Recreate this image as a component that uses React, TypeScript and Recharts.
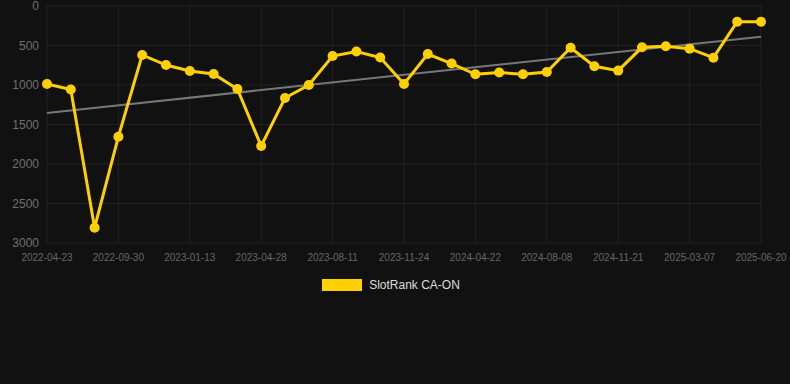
import { LineChart, Line, XAxis, YAxis, CartesianGrid, Legend, ReferenceLine } from 'recharts';

const dates = [
    '2022-04-23', '2022-06-16', '2022-08-08',
    '2022-09-30', '2022-11-04', '2022-12-09',
    '2023-01-13', '2023-02-17', '2023-03-24',
    '2023-04-28', '2023-06-02', '2023-07-07',
    '2023-08-11', '2023-09-15', '2023-10-20',
    '2023-11-24', '2024-01-14', '2024-03-04',
    '2024-04-22', '2024-05-28', '2024-07-03',
    '2024-08-08', '2024-09-12', '2024-10-17',
    '2024-11-21', '2024-12-26', '2025-01-30',
    '2025-03-07', '2025-04-11', '2025-05-16',
    '2025-06-20',
];

const ranks = [
    987, 1057, 2806, 1654, 620, 747, 823, 861, 1051, 1772, 1165, 1000, 633, 576, 652, 987,
    608, 728, 865, 842, 865, 835, 528, 763, 818, 523, 510, 540, 654, 199, 199,
];

// trend line end values
const trendStart = 1354;
const trendEnd = 388;

const yTicks = [0, 500, 1000, 1500, 2000, 2500, 3000];

const data = dates.map((date, i) => ({ date, rank: ranks[i] }));

const LegendBox = () => (
    <div style={{ display: 'flex', justifyContent: 'center', alignItems: 'center', fontFamily: 'Arial, "Liberation Sans", sans-serif' }}>
        <span style={{ width: 40, height: 12, background: '#ffd000', display: 'inline-block', marginRight: 7 }} />
        <span style={{ color: '#dddddd', fontSize: 12 }}>SlotRank CA-ON</span>
    </div>
);

export default function App() {
    return (
        <div style={{ position: 'absolute', left: 0, top: 0, width: 790, height: 384, background: '#111111' }}>
            <LineChart
                width={790}
                height={384}
                data={data}
                margin={{ top: 6, right: 29, left: 0, bottom: 111 }}
                style={{ fontFamily: 'Arial, "Liberation Sans", sans-serif' }}
            >
                <CartesianGrid stroke="#222222" strokeWidth={1} />
                <XAxis
                    dataKey="date"
                    interval={2}
                    tickLine={false}
                    axisLine={false}
                    tickMargin={5}
                    height={30}
                    tick={{ fill: '#666666', fontSize: 10 }}
                />
                <YAxis
                    reversed
                    domain={[0, 3000]}
                    ticks={yTicks}
                    interval={0}
                    width={47}
                    tickLine={false}
                    axisLine={false}
                    tick={{ fill: '#707070', fontSize: 12 }}
                />
                <Legend
                    layout="horizontal"
                    verticalAlign="middle"
                    align="center"
                    content={<LegendBox />}
                    wrapperStyle={{ top: 278, left: -4, width: 790 }}
                />
                <ReferenceLine
                    segment={[
                        { x: dates[0], y: trendStart },
                        { x: dates[dates.length - 1], y: trendEnd },
                    ]}
                    stroke="#777777"
                    strokeWidth={2}
                />
                <Line
                    type="linear"
                    dataKey="rank"
                    stroke="#ffd000"
                    strokeWidth={3}
                    dot={{ r: 5, fill: '#ffd000', stroke: '#ffd000', strokeWidth: 0 }}
                    activeDot={false}
                    isAnimationActive={false}
                />
            </LineChart>
        </div>
    );
}
